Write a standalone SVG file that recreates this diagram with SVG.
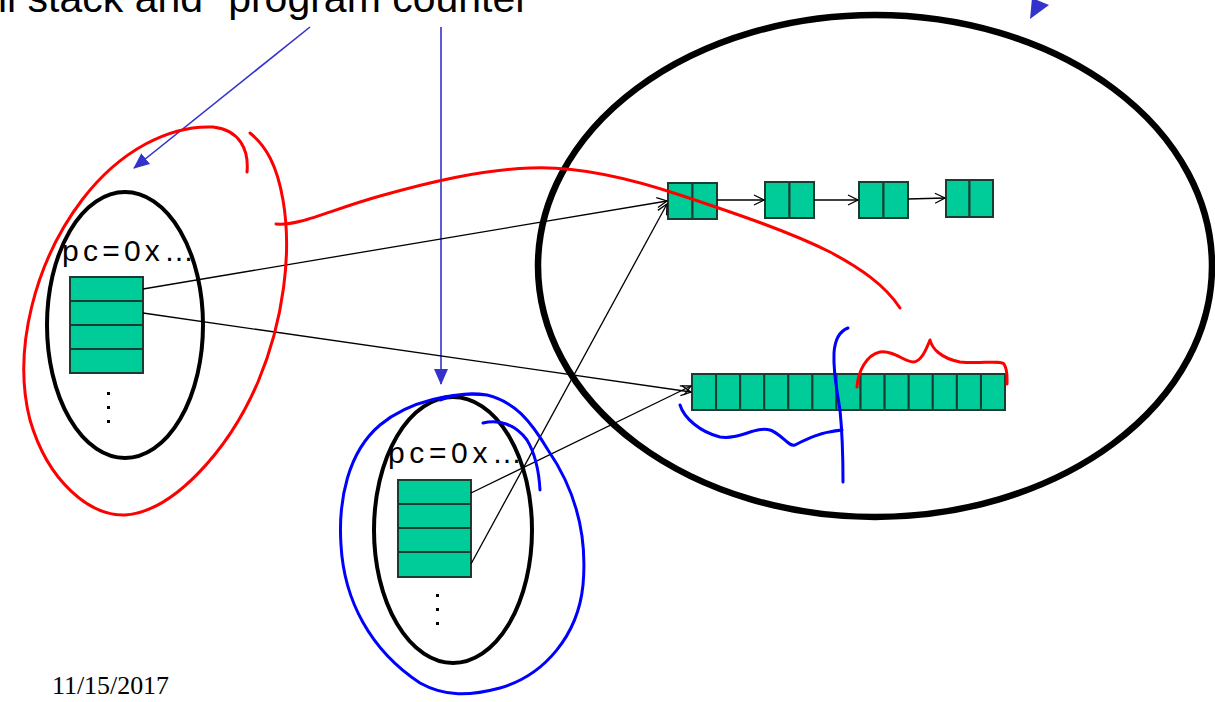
<svg xmlns="http://www.w3.org/2000/svg" width="1215" height="702" viewBox="0 0 1215 702">
  <style>
    .cell { fill: #00cc99; stroke: #1b3d30; stroke-width: 2; }
    .oval { fill: none; stroke: #000; stroke-width: 4; }
    .ptr { fill: none; stroke: #000; stroke-width: 1.3; marker-end: url(#open); }
    .ink-red { fill: none; stroke: #ff0000; stroke-width: 3; stroke-linecap: round; stroke-linejoin: round; }
    .ink-blue { fill: none; stroke: #0000ff; stroke-width: 3; stroke-linecap: round; stroke-linejoin: round; }
    .callout { fill: none; stroke: #3333cc; stroke-width: 1.6; }
    .label { font-family: "Liberation Sans", Arial, sans-serif; fill: #000; }
    .dot { fill: #000; }
  </style>
  <defs>
    <marker id="open" viewBox="0 0 12 12" refX="11" refY="6" markerWidth="12" markerHeight="12" markerUnits="userSpaceOnUse" orient="auto">
      <path d="M1,1 L11,6 L1,11" fill="none" stroke="#000" stroke-width="1.3"/>
    </marker>
    <marker id="solid" viewBox="0 0 16 14" refX="15" refY="7" markerWidth="16" markerHeight="14" markerUnits="userSpaceOnUse" orient="auto">
      <path d="M0,0 L16,7 L0,14 Z" fill="#3333cc"/>
    </marker>
  </defs>

  <rect width="1215" height="702" fill="#fff"/>

  <!-- heading, clipped at the top edge -->
  <text class="label" x="-2" y="12" font-size="41">ll stack and “program counter</text>

  <!-- callout arrows from the heading -->
  <g id="callouts">
    <line class="callout" x1="310" y1="27" x2="134" y2="168" marker-end="url(#solid)"/>
    <line class="callout" x1="441" y1="27" x2="441" y2="384" marker-end="url(#solid)"/>
    <polygon points="1030,19 1032,-2 1049,5" fill="#3333cc"/>
  </g>

  <!-- shared address space -->
  <g id="address-space">
    <ellipse cx="875" cy="266" rx="337" ry="251" fill="none" stroke="#000" stroke-width="6.5"/>
  </g>

  <!-- thread 1 -->
  <g id="thread1">
    <ellipse class="oval" cx="125" cy="325" rx="78" ry="133"/>
    <text class="label" x="62" y="261" font-size="30" textLength="132" lengthAdjust="spacing">pc=0x…</text>
    <rect class="cell" x="70" y="277" width="73" height="24"/>
    <rect class="cell" x="70" y="301" width="73" height="24"/>
    <rect class="cell" x="70" y="325" width="73" height="24"/>
    <rect class="cell" x="70" y="349" width="73" height="24"/>
    <rect class="dot" x="107" y="392" width="3" height="3"/>
    <rect class="dot" x="107" y="406" width="3" height="3"/>
    <rect class="dot" x="107" y="420" width="3" height="3"/>
  </g>

  <!-- thread 2 -->
  <g id="thread2">
    <ellipse class="oval" cx="453" cy="530" rx="79" ry="133"/>
    <text class="label" x="388" y="463" font-size="30" textLength="134" lengthAdjust="spacing">pc=0x…</text>
    <rect class="cell" x="398" y="480" width="73" height="24"/>
    <rect class="cell" x="398" y="504" width="73" height="24"/>
    <rect class="cell" x="398" y="528" width="73" height="24"/>
    <rect class="cell" x="398" y="552" width="73" height="25"/>
    <rect class="dot" x="436" y="594" width="3" height="3"/>
    <rect class="dot" x="436" y="608" width="3" height="3"/>
    <rect class="dot" x="436" y="622" width="3" height="3"/>
  </g>

  <!-- linked list on the heap -->
  <g id="list-node1">
    <rect class="cell" x="668" y="183" width="24.5" height="36"/>
    <rect class="cell" x="692.5" y="183" width="24.5" height="36"/>
  </g>
  <g id="list-node2">
    <rect class="cell" x="765" y="182" width="24.5" height="36"/>
    <rect class="cell" x="789.5" y="182" width="24.5" height="36"/>
  </g>
  <g id="list-node3">
    <rect class="cell" x="859" y="182" width="24.5" height="36"/>
    <rect class="cell" x="883.5" y="182" width="24.5" height="36"/>
  </g>
  <g id="list-node4">
    <rect class="cell" x="946" y="180" width="23.5" height="37"/>
    <rect class="cell" x="969.5" y="180" width="23.5" height="37"/>
  </g>

  <!-- array on the heap -->
  <g id="array">
    <rect class="cell" x="692" y="374" width="24.08" height="36"/>
    <rect class="cell" x="716.08" y="374" width="24.08" height="36"/>
    <rect class="cell" x="740.16" y="374" width="24.08" height="36"/>
    <rect class="cell" x="764.24" y="374" width="24.08" height="36"/>
    <rect class="cell" x="788.32" y="374" width="24.08" height="36"/>
    <rect class="cell" x="812.4" y="374" width="24.08" height="36"/>
    <rect class="cell" x="836.48" y="374" width="24.08" height="36"/>
    <rect class="cell" x="860.56" y="374" width="24.08" height="36"/>
    <rect class="cell" x="884.64" y="374" width="24.08" height="36"/>
    <rect class="cell" x="908.72" y="374" width="24.08" height="36"/>
    <rect class="cell" x="932.8" y="374" width="24.08" height="36"/>
    <rect class="cell" x="956.88" y="374" width="24.08" height="36"/>
    <rect class="cell" x="980.96" y="374" width="24.04" height="36"/>
  </g>

  <!-- pointers -->
  <g id="connectors">
    <line class="ptr" x1="143" y1="289" x2="667" y2="201"/>
    <line class="ptr" x1="143" y1="313" x2="691" y2="392"/>
    <line class="ptr" x1="471" y1="493" x2="691" y2="386"/>
    <line class="ptr" x1="471" y1="564" x2="667" y2="204"/>
    <line class="ptr" x1="717" y1="200" x2="764" y2="200"/>
    <line class="ptr" x1="814" y1="200" x2="858" y2="200"/>
    <line class="ptr" x1="908" y1="199" x2="945" y2="198"/>
  </g>

  <!-- red annotations: thread 1 and what it uses -->
  <g id="red-marks">
    <path class="ink-red" d="M247,172 C249,150 240,130 213,127 C170,125 120,150 82,200 C35,262 12,350 30,420 C48,482 90,516 125,515 C172,512 228,452 258,382 C284,320 292,252 283,200 C277,165 266,146 250,133"/>
    <path class="ink-red" d="M276,224 C300,226 330,210 380,196 C430,182 480,170 530,168 C570,166 620,175 680,195 C740,215 790,232 830,252 C860,268 885,285 900,308"/>
    <path class="ink-red" d="M857,387 C858,372 866,355 880,352 C893,350 905,362 913,362 C921,362 926,350 930,340 C932,348 940,358 960,362 C980,364 1000,360 1004,364 C1008,370 1007,378 1007,384"/>
  </g>

  <!-- blue annotations: thread 2 and what it uses -->
  <g id="blue-marks">
    <path class="ink-blue" d="M487,395 C455,392 410,400 380,425 C348,452 338,500 341,545 C344,600 370,650 420,683 C445,697 470,696 500,688 C545,675 578,635 583,585 C588,530 572,485 548,450 C530,420 515,402 487,395 C470,392 455,394 440,400"/>
    <path class="ink-blue" d="M483,423 C498,419 515,424 527,440 C536,455 539,472 540,490"/>
    <path class="ink-blue" d="M680,405 C684,418 700,432 720,437 C740,440 755,426 770,430 C782,434 788,447 795,445 C805,440 820,432 842,430"/>
    <path class="ink-blue" d="M848,328 C840,331 835,338 834,353 C833,375 838,395 840,410 C843,440 843,465 843,482"/>
  </g>

  <!-- slide footer date -->
  <text x="52" y="694" font-family="'Liberation Serif', 'Times New Roman', serif" font-size="25" textLength="117" lengthAdjust="spacingAndGlyphs" fill="#000">11/15/2017</text>
</svg>
